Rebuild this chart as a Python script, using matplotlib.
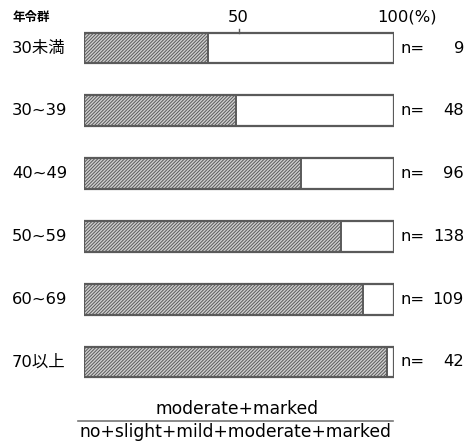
import matplotlib
matplotlib.use("Agg")
import matplotlib.pyplot as plt
from matplotlib.transforms import blended_transform_factory

plt.rcParams['font.family'] = ['DejaVu Sans', 'Noto Sans CJK JP']
plt.rcParams['hatch.color'] = '#707070'
plt.rcParams['hatch.linewidth'] = 0.7

groups = ['30未満', '30~39', '40~49', '50~59', '60~69', '70以上']
share = [40, 49, 70, 83, 90, 97.6]
counts = [9, 48, 96, 138, 109, 42]

W, H = 474, 441
fig = plt.figure(figsize=(W / 100, H / 100), dpi=100)
ax_l, ax_r = 84, 394
ax_t, ax_b = 16.6, 393.4
ax = fig.add_axes([ax_l / W, 1 - ax_b / H, (ax_r - ax_l) / W, (ax_b - ax_t) / H])
ax.set_xlim(0, 100)
ax.set_ylim(len(groups) - 0.5, -0.5)
ax.axis('off')

rows = list(range(len(groups)))
bh = 0.49
edge = '#5a5a5a'
ax.barh(rows, share, height=bh, color='#cfcfcf', hatch='/' * 10,
        edgecolor=edge, linewidth=0)
ax.barh(rows, [100 - s for s in share], left=share, height=bh,
        color='white', edgecolor=edge, linewidth=1.4)
ax.barh(rows, [100] * len(rows), height=bh, fill=False,
        edgecolor=edge, linewidth=1.6)

# small tick marking 50%
ax.plot([50, 50], [-bh / 2, -bh / 2 - 0.05], color=edge, lw=1, clip_on=False)

fs = 11.8
bt = blended_transform_factory(fig.transFigure, ax.transData)
for r, g, n in zip(rows, groups, counts):
    ax.text(12 / W, r, g, transform=bt, ha='left', va='center', fontsize=fs)
    ax.text(400 / W, r, 'n=', transform=bt, ha='left', va='center', fontsize=fs)
    ax.text(464 / W, r, str(n), transform=bt, ha='right', va='center', fontsize=fs)

ft = fig.transFigure
ax.text(13 / W, 1 - 17 / H, '年令群', transform=ft, ha='left', va='center',
        fontsize=9, fontweight='bold')
ax.text(238 / W, 1 - 17 / H, '50', transform=ft, ha='center', va='center', fontsize=fs)
ax.text(377 / W, 1 - 17 / H, '100(%)', transform=ft, ha='left', va='center', fontsize=fs)

ax.text(237 / W, 1 - 409 / H, 'moderate+marked', transform=ft, ha='center',
        va='center', fontsize=12.3)
fig.add_artist(plt.Line2D([78 / W, 393 / W], [1 - 421 / H, 1 - 421 / H],
                          transform=ft, color='#777777', lw=1.2))
ax.text(235 / W, 1 - 432 / H, 'no+slight+mild+moderate+marked', transform=ft,
        ha='center', va='center', fontsize=12.3)

fig.savefig('out.png', dpi=100, facecolor='white')
